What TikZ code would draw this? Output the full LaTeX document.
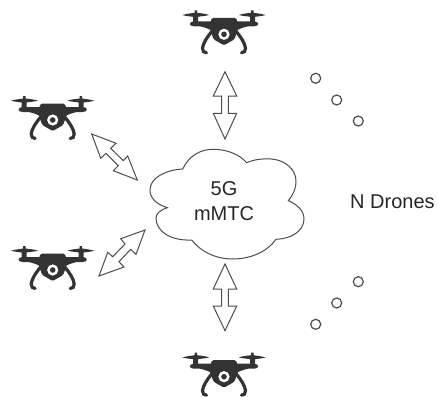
\documentclass[tikz,border=0pt]{standalone}
\usepackage{fontspec}
\setmainfont{Liberation Sans}
\definecolor{ink}{gray}{0.2}
\definecolor{edge}{gray}{0.3}
\tikzset{
  x=1pt,y=-1pt,
  outline/.style={draw=edge,line width=1pt,fill=white,line join=miter},
  dotmark/.style={circle,draw=edge,line width=1.2pt,fill=white,minimum size=10pt,inner sep=0pt},
  label text/.style={font=\fontsize{20}{24}\selectfont,text=black!85,inner sep=0pt,align=center},
  uav/.pic={
    % rotors
    \foreach \s in {-1,1}{
      \fill[ink] (\s*41.7,-19.3) .. controls (\s*35,-21) and (\s*32,-21) .. (\s*29.5,-21.5)
        -- (\s*29.5,-24) -- (\s*27,-24) -- (\s*27,-21.5)
        .. controls (\s*24,-21) and (\s*20,-21) .. (\s*14.7,-19.3)
        .. controls (\s*20,-18) and (\s*24,-18) .. (\s*26,-17.5)
        -- (\s*26,-12) -- (\s*31,-12) -- (\s*31,-17.5)
        .. controls (\s*34,-18) and (\s*37,-18) .. cycle;
      % arm
      \fill[ink] (\s*10,-13) -- (\s*30,-13) .. controls (\s*35,-13) and (\s*36,-8) .. (\s*30,-8)
        -- (\s*24,-8) .. controls (\s*20,-7) and (\s*16,-6) .. (\s*11,-3) -- cycle;
      % leg
      \draw[ink,line width=3.2pt,line cap=round] (\s*12.5,-2.5)
        .. controls (\s*17,3) and (\s*21,9) .. (\s*21.5,14)
        .. controls (\s*21.5,17) and (\s*20,18.5) .. (\s*17.5,18.5);
    }
    % body
    \fill[ink,rounded corners=1.5pt] (-12,-16.5) -- (12,-16.5) -- (15,-8) -- (10.5,5) -- (0,11) -- (-10.5,5) -- (-15,-8) -- cycle;
    % camera
    \fill[white] (0,0) circle (5.6);
    \fill[ink] (0,0) circle (2.8);
  }
}
\begin{document}
\begin{tikzpicture}
\useasboundingbox (0,0) rectangle (438,396);
\pic at (224,34.3) {uav};
\pic at (52.7,120) {uav};
\pic at (52.7,270) {uav};
\pic at (224,376.7) {uav};
% double arrows
\path[outline] (225,71.7) -- (236.7,96) -- (228.3,96) -- (228.3,113.3) -- (236.7,113.3) -- (225,139) -- (213.3,113.3) -- (221.7,113.3) -- (221.7,96) -- (213.3,96) -- cycle;
\path[outline] (225,264) -- (236.7,289) -- (228.3,289) -- (228.3,306) -- (236.7,306) -- (225,330.7) -- (213.3,306) -- (221.7,306) -- (221.7,289) -- (213.3,289) -- cycle;
\path[outline] (91.7,134) -- (116,143.3) -- (110.7,148.3) -- (123.3,160.7) -- (127.7,156) -- (137.3,180) -- (113.3,170.7) -- (118.3,165.7) -- (106,153.3) -- (100.7,158.3) -- cycle;
\path[outline] (145,230) -- (136,254.3) -- (130.7,249.3) -- (119,261.7) -- (124,267) -- (99,276) -- (107.7,252.3) -- (112.7,256.7) -- (125,244) -- (120.7,238.7) -- cycle;
% cloud
\path[outline] (182.7,169)
  .. controls (189,156) and (200,149.3) .. (213,149.3)
  .. controls (228,149.3) and (240,155) .. (246.7,162.7)
  .. controls (254,159.5) and (262,158.5) .. (271,159)
  .. controls (286,160) and (296,170) .. (296,181)
  .. controls (296,189) and (293,195) .. (288.3,200.7)
  .. controls (298,205) and (304,211) .. (304,219)
  .. controls (304,231) and (291,239) .. (276,239.3)
  .. controls (267,252) and (250,259) .. (233,259)
  .. controls (215,259) and (200,251) .. (191.7,240)
  .. controls (170,241) and (156,231) .. (156,218)
  .. controls (156,214) and (160,210) .. (167.3,207.7)
  .. controls (156,204) and (150,198) .. (150,190)
  .. controls (150,178) and (165,170) .. (182.7,169)
  -- cycle;
\node[label text] (cloudtext) at (224,201.5) {5G\\[1pt]mMTC};
\node[label text,anchor=base west] (count) at (350,208) {N Drones};
\foreach \n/\p in {a/{315.7,78.3},b/{336.7,100},c/{358.3,121},d/{358.3,281.7},e/{336.7,303},f/{315.7,324.3}}
  \node[dotmark] (dot\n) at (\p) {};
\end{tikzpicture}
\end{document}
